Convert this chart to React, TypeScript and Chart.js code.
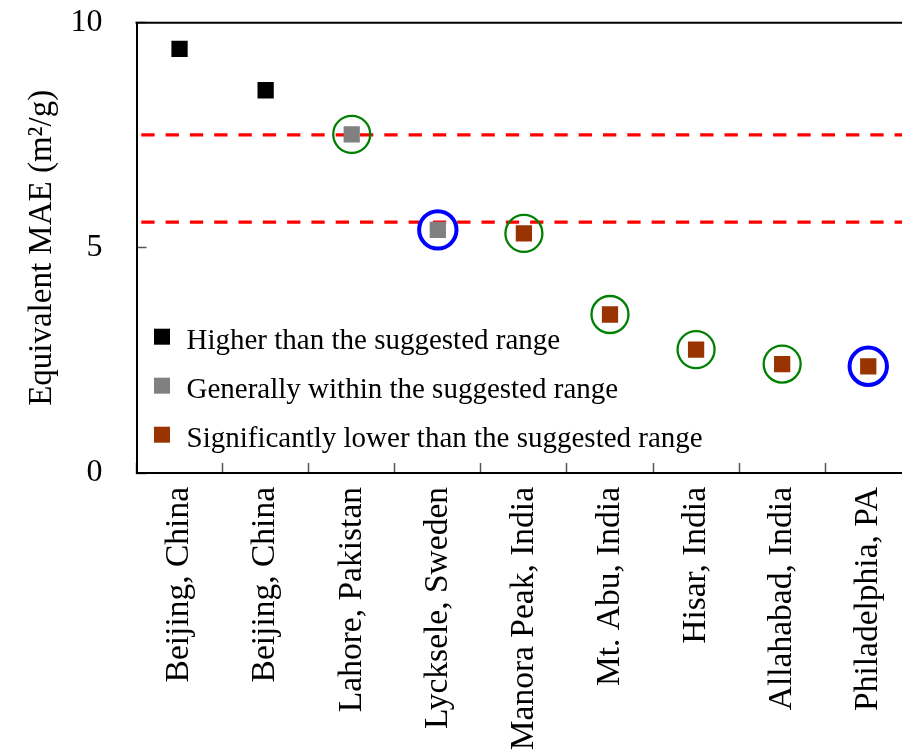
import React, { useEffect, useRef } from 'react';
import { Chart, registerables } from 'chart.js';

Chart.register(...registerables);

const categories = [
  'Beijing, China',
  'Beijing, China',
  'Lahore, Pakistan',
  'Lycksele, Sweden',
  'Manora Peak, India',
  'Mt. Abu, India',
  'Hisar, India',
  'Allahabad, India',
  'Philadelphia, PA',
];
const maeValues = [9.42, 8.5, 7.52, 5.4, 5.32, 3.52, 2.74, 2.42, 2.37];
const rangeGroups = ['higher', 'higher', 'within', 'within', 'lower', 'lower', 'lower', 'lower', 'lower'];
const circleGroups = ['', '', 'green', 'blue', 'green', 'green', 'green', 'green', 'blue'];
const groupKeys = ['higher', 'within', 'lower'];
const groupLabels = [
  'Higher than the suggested range',
  'Generally within the suggested range',
  'Significantly lower than the suggested range',
];
const groupColors = ['#000000', '#808080', '#993300'];
const suggestedRangeBounds = [5.57, 7.51];
const yTickValues = [0, 5, 10];
const yAxisTitle = 'Equivalent MAE (m²/g)';

const FONT = "'Liberation Serif', 'Times New Roman', serif";

const framePlugin = {
  id: 'framePlugin',
  beforeDatasetsDraw(chart: any) {
    const { ctx, chartArea: a, scales } = chart;
    const y = scales.y;
    ctx.save();
    ctx.strokeStyle = '#ff0000';
    ctx.lineWidth = 3.3;
    ctx.setLineDash([13.3, 11]);
    ctx.lineDashOffset = 19.5;
    suggestedRangeBounds.forEach((v) => {
      const py = y.getPixelForValue(v);
      ctx.beginPath();
      ctx.moveTo(a.left, py);
      ctx.lineTo(a.right, py);
      ctx.stroke();
    });
    ctx.restore();
  },
  afterDraw(chart: any) {
    const { ctx, chartArea: a } = chart;
    ctx.save();
    // top and right frame
    ctx.strokeStyle = '#000';
    ctx.lineWidth = 2;
    ctx.beginPath();
    ctx.moveTo(a.left - 1, a.top);
    ctx.lineTo(a.right, a.top);
    ctx.lineTo(a.right, a.bottom);
    ctx.stroke();
    // legend
    ctx.font = `29px ${FONT}`;
    ctx.textAlign = 'left';
    ctx.textBaseline = 'alphabetic';
    groupKeys.forEach((_, i) => {
      const ds = chart.data.datasets[i];
      const cy = a.top + 314 + 49 * i;
      ctx.fillStyle = ds.pointBackgroundColor;
      ctx.fillRect(a.left + 25.5 - 8, cy - 8, 16, 16);
      ctx.fillStyle = '#000';
      ctx.fillText(ds.label, a.left + 50, a.top + 326 + 49 * i);
    });
    ctx.restore();
  },
};

const zeroPadding = (s: any) => {
  s.paddingTop = 0;
  s.paddingBottom = 0;
  s.paddingLeft = 0;
  s.paddingRight = 0;
};

export default function App() {
  const ref = useRef<HTMLCanvasElement | null>(null);

  useEffect(() => {
    if (!ref.current) return;
    const squareSets = groupKeys.map((g, gi) => ({
      label: groupLabels[gi],
      data: maeValues.map((v, i) => (rangeGroups[i] === g ? v : null)),
      showLine: false,
      pointStyle: 'rect',
      pointRadius: 11.5,
      pointHoverRadius: 11.5,
      pointBackgroundColor: groupColors[gi],
      pointBorderColor: groupColors[gi],
      pointBorderWidth: 0,
      backgroundColor: groupColors[gi],
      borderColor: groupColors[gi],
    }));
    const circleSet = (key: string, color: string, r: number, w: number) => ({
      label: key,
      data: maeValues.map((v, i) => (circleGroups[i] === key ? v : null)),
      showLine: false,
      pointStyle: 'circle',
      pointRadius: r,
      pointHoverRadius: r,
      pointBorderWidth: w,
      pointHoverBorderWidth: w,
      pointBorderColor: color,
      pointBackgroundColor: 'rgba(0,0,0,0)',
      borderColor: color,
      backgroundColor: 'rgba(0,0,0,0)',
    });

    const chart = new Chart(ref.current, {
      type: 'line',
      data: {
        labels: categories,
        datasets: [
          ...squareSets,
          circleSet('green', '#008000', 18.5, 2.3),
          circleSet('blue', '#0000ff', 18.7, 4),
        ] as any,
      },
      options: {
        responsive: false,
        animation: false,
        events: [],
        layout: { padding: { top: 22, right: 1, left: 0, bottom: 0 } },
        plugins: {
          legend: { display: false },
          tooltip: { enabled: false },
        },
        scales: {
          x: {
            type: 'category',
            offset: true,
            grid: {
              offset: true,
              drawOnChartArea: false,
              drawTicks: true,
              tickLength: -10,
              tickColor: '#555',
              tickWidth: 1.5,
            },
            border: { display: true, color: '#000', width: 2 },
            ticks: {
              autoSkip: false,
              minRotation: 90,
              maxRotation: 90,
              padding: 24,
              color: '#000',
              font: { size: 33.5, family: FONT },
            },
            afterFit: (s: any) => {
              s.height = 277;
              zeroPadding(s);
            },
          },
          y: {
            type: 'linear',
            min: 0,
            max: 10,
            afterBuildTicks: (s: any) => {
              s.ticks = yTickValues.map((v) => ({ value: v }));
            },
            grid: {
              drawOnChartArea: false,
              drawTicks: true,
              tickLength: -10,
              tickColor: '#555',
              tickWidth: 1.5,
            },
            border: { display: true, color: '#000', width: 2 },
            ticks: {
              padding: 44,
              color: '#000',
              font: { size: 32, family: FONT },
            },
            title: {
              display: true,
              text: yAxisTitle,
              color: '#000',
              font: { size: 33, family: FONT },
              padding: { top: 23, bottom: 0 },
            },
            afterFit: (s: any) => {
              s.width = 136.5;
              zeroPadding(s);
            },
          },
        },
      } as any,
      plugins: [framePlugin],
    });
    return () => chart.destroy();
  }, []);

  return (
    <div
      style={{
        position: 'fixed',
        left: 0,
        top: 0,
        width: 902,
        height: 750,
        overflow: 'hidden',
        background: '#fff',
      }}
    >
      <canvas ref={ref} width={934} height={750} style={{ display: 'block' }} />
    </div>
  );
}
